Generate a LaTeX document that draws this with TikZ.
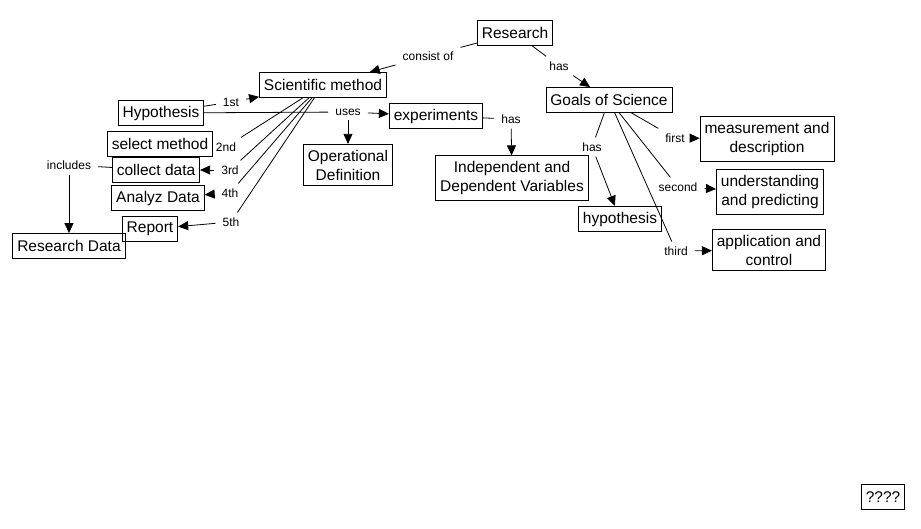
\documentclass[tikz,border=0pt]{standalone}
\usepackage{fontspec}
\setmainfont{Liberation Sans}
\usetikzlibrary{arrows,arrows.meta}

\tikzset{
  conceptbox/.style={draw,line width=0.8pt,font=\fontsize{15.5}{19}\selectfont,
    inner xsep=4.5pt,inner ysep=5.5pt,minimum height=25pt,align=center},
  phrase/.style={font=\fontsize{12}{14}\selectfont,inner xsep=7pt,inner ysep=5pt},
  link/.style={line width=0.8pt},
  linkto/.style={line width=0.8pt,-{Triangle[length=10pt,width=9pt]}}
}

\begin{document}
\begin{tikzpicture}[x=1pt,y=-1pt]
\useasboundingbox (0,0) rectangle (921,529);

\node[conceptbox] (research) at (515,33) {Research};
\node[conceptbox] (scimethod) at (323,85) {Scientific method};
\node[conceptbox] (hyp) at (161,113) {Hypothesis};
\node[conceptbox] (selmethod) at (160,144) {select method};
\node[conceptbox] (collect) at (156,170) {collect data};
\node[conceptbox] (analyz) at (158,198) {Analyz Data};
\node[conceptbox] (report) at (150,229) {Report};
\node[conceptbox] (resdata) at (69,246) {Research Data};
\node[conceptbox] (experiments) at (436,116) {experiments};
\node[conceptbox] (opdef) at (348,165) {Operational\\Definition};
\node[conceptbox] (indep) at (512,178) {Independent and\\Dependent Variables};
\node[conceptbox] (goals) at (609,100) {Goals of Science};
\node[conceptbox] (hyp2) at (620,219) {hypothesis};
\node[conceptbox] (measure) at (767,139) {measurement and\\description};
\node[conceptbox] (underst) at (770,192) {understanding\\and predicting};
\node[conceptbox] (applic) at (769,250) {application and\\control};
\node[conceptbox] (unknown) at (883,497) {????};

\node[phrase] (consistof) at (428,56) {consist of};
\node[phrase] (hasgoals) at (559,66) {has};
\node[phrase] (st1) at (231,102) {1st};
\node[phrase] (nd2) at (226,147) {2nd};
\node[phrase] (rd3) at (230,170) {3rd};
\node[phrase] (th4) at (230,193) {4th};
\node[phrase] (th5) at (231,222) {5th};
\node[phrase] (uses) at (348,112) {uses};
\node[phrase] (hasvar) at (511,119) {has};
\node[phrase] (includes) at (69,165) {includes};
\node[phrase] (hashyp) at (592,147) {has};
\node[phrase] (first) at (675,138) {first};
\node[phrase] (second) at (678,187) {second};
\node[phrase] (third) at (676,251) {third};

\draw[link] (research) -- (consistof);
\draw[linkto] (consistof) -- (scimethod);
\draw[link] (research) -- (hasgoals);
\draw[linkto] (hasgoals) -- (goals);
\draw[link] (hyp) -- (st1);
\draw[linkto] (st1) -- (scimethod);
\draw[link] (scimethod) -- (nd2);
\draw[link] (scimethod) -- (rd3);
\draw[linkto] (rd3) -- (collect);
\draw[link] (scimethod) -- (th4);
\draw[linkto] (th4) -- (analyz);
\draw[link] (scimethod) -- (th5);
\draw[linkto] (th5) -- (report);
\draw[link] (hyp) -- (uses);
\draw[linkto] (uses) -- (experiments);
\draw[linkto] (uses) -- (opdef);
\draw[link] (experiments) -- (hasvar);
\draw[linkto] (hasvar) -- (indep);
\draw[link] (collect) -- (includes);
\draw[linkto] (includes) -- (resdata);
\draw[link] (goals) -- (hashyp);
\draw[linkto] (hashyp) -- (hyp2);
\draw[link] (goals) -- (first);
\draw[linkto] (first) -- (measure);
\draw[link] (goals) -- (second);
\draw[linkto] (second) -- (underst);
\draw[link] (goals) -- (third);
\draw[linkto] (third) -- (applic);
\end{tikzpicture}
\end{document}
